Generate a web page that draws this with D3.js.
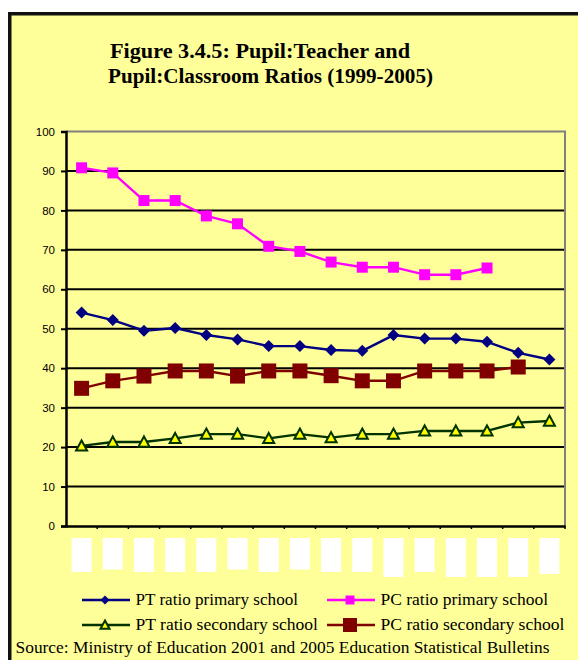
<!DOCTYPE html>
<html>
<head>
<meta charset="utf-8">
<script src="https://cdn.jsdelivr.net/npm/d3@7"></script>
<style>
  html, body { margin: 0; padding: 0; background: #ffffff; }
  svg { display: block; }
</style>
</head>
<body>
<div id="chart"></div>
<script>
// ---------------- DATA ----------------
const categories = ["1990","1991","1992","1993","1994","1995","1996","1997","1998","1999","2000","2001","2002","2003","2004","2005"];
const ptPrimary   = [54.1, 52.2, 49.5, 50.2, 48.4, 47.3, 45.6, 45.6, 44.6, 44.4, 48.4, 47.5, 47.5, 46.7, 43.9, 42.2];
const pcPrimary   = [90.8, 89.5, 82.5, 82.5, 78.6, 76.6, 70.9, 69.6, 66.9, 65.6, 65.6, 63.7, 63.7, 65.4, null, null];
const ptSecondary = [20.3, 21.3, 21.3, 22.2, 23.3, 23.3, 22.2, 23.3, 22.4, 23.3, 23.3, 24.1, 24.1, 24.1, 26.2, 26.6];
const pcSecondary = [34.9, 36.8, 38.0, 39.3, 39.3, 38.0, 39.3, 39.3, 38.1, 36.8, 36.8, 39.3, 39.3, 39.3, 40.3, null];
const yTicks = [0, 10, 20, 30, 40, 50, 60, 70, 80, 90, 100];
const seriesNames = ["PT ratio primary school", "PC ratio primary school", "PT ratio secondary school", "PC ratio secondary school"];
const titleLines = ["Figure 3.4.5: Pupil:Teacher and", "Pupil:Classroom Ratios (1999-2005)"];
const sourceText = "Source: Ministry of Education 2001 and 2005 Education Statistical Bulletins";

// ---------------- LAYOUT / STYLE ----------------
const W = 578, H = 660;
const plot = { left: 66, right: 565, top: 131.5, bottom: 526 };
const labelBoxDepth = [34, 31.5, 34, 34, 34, 31.5, 34, 31.5, 34, 34, 39, 34, 39, 39, 39, 36];
const legendTextWidths = [162.5, 167.5, 182.5, 184];

const series = [
  { name: seriesNames[0], values: ptPrimary,   color: "#000080", marker: "diamond",  size: 12, fill: "#000080" },
  { name: seriesNames[1], values: pcPrimary,   color: "#FF00FF", marker: "square",   size: 11, fill: "#FF00FF" },
  { name: seriesNames[2], values: ptSecondary, color: "#003300", marker: "triangle", size: 11, fill: "#FFFF00" },
  { name: seriesNames[3], values: pcSecondary, color: "#800000", marker: "square",   size: 15, fill: "#800000" }
];

const svg = d3.select("#chart").append("svg")
  .attr("width", W).attr("height", H);

svg.append("rect").attr("x", 0).attr("y", 0).attr("width", W).attr("height", H).attr("fill", "#ffffff");
// chart frame
svg.append("rect")
  .attr("x", 9.75).attr("y", 13.75).attr("width", W + 20).attr("height", H + 20)
  .attr("fill", "#FFFF99").attr("stroke", "#111111").attr("stroke-width", 3.5);

// title
const title = svg.append("g").attr("font-family", "'Liberation Serif', 'Times New Roman', serif")
  .attr("font-weight", "bold").attr("font-size", 21).attr("fill", "#000");
title.append("text").attr("x", 110).attr("y", 57.5).attr("textLength", 300)
  .attr("lengthAdjust", "spacingAndGlyphs").text(titleLines[0]);
title.append("text").attr("x", 108).attr("y", 82.5).attr("textLength", 325)
  .attr("lengthAdjust", "spacingAndGlyphs").text(titleLines[1]);

// scales
const x = d3.scaleBand().domain(categories).range([plot.left, plot.right]);
const y = d3.scaleLinear().domain([0, 100]).range([plot.bottom, plot.top]);

// gridlines
svg.append("g").selectAll("line")
  .data(yTicks.filter(v => v > 0 && v < 100))
  .join("line")
  .attr("x1", plot.left).attr("x2", plot.right)
  .attr("y1", d => y(d)).attr("y2", d => y(d))
  .attr("stroke", "#000").attr("stroke-width", 2);

// plot border (top + right) in gray
svg.append("path")
  .attr("d", `M${plot.left},${y(100)}H${plot.right}V${plot.bottom}`)
  .attr("fill", "none").attr("stroke", "#808080").attr("stroke-width", 2);

// y axis
const yAxis = svg.append("g")
  .attr("transform", `translate(${plot.left},0)`)
  .call(d3.axisLeft(y).tickValues(yTicks).tickSize(5).tickPadding(6).tickFormat(d3.format("d")));
yAxis.select(".domain").attr("stroke", "#000").attr("stroke-width", 2.5);
yAxis.selectAll(".tick line").attr("stroke", "#000").attr("stroke-width", 2);
yAxis.selectAll(".tick text")
  .attr("font-family", "'Liberation Sans', Arial, sans-serif").attr("font-size", 11.5).attr("fill", "#000");

// x axis (ticks at category boundaries, labels hidden)
const xAxis = svg.append("g")
  .attr("transform", `translate(0,${plot.bottom})`)
  .call(d3.axisBottom(x).tickSize(0).tickFormat(""));
xAxis.select(".domain").attr("stroke", "#000").attr("stroke-width", 2.5);
xAxis.selectAll(".tick").remove();
xAxis.selectAll("line.bnd")
  .data(categories.slice(1).concat(["__end"]))
  .join("line")
  .attr("class", "bnd")
  .attr("x1", (d, i) => i < categories.length - 1 ? x(d) : plot.right)
  .attr("x2", (d, i) => i < categories.length - 1 ? x(d) : plot.right)
  .attr("y1", 0).attr("y2", 3)
  .attr("stroke", "#000").attr("stroke-width", 1.5);

// white boxes covering category labels
svg.append("g").selectAll("rect")
  .data(categories)
  .join("rect")
  .attr("x", d => x(d) + x.bandwidth() / 2 - 10)
  .attr("y", 538)
  .attr("width", 20)
  .attr("height", (d, i) => labelBoxDepth[i])
  .attr("fill", "#ffffff");

// markers
function markerPath(type, s) {
  const h = s / 2;
  if (type === "diamond") return `M0,${-h}L${h},0L0,${h}L${-h},0Z`;
  if (type === "square") return `M${-h},${-h}H${h}V${h}H${-h}Z`;
  if (type === "triangle") return `M0,${-h}L${h},${h * 0.85}L${-h},${h * 0.85}Z`;
  return "";
}

const line = d3.line()
  .defined(d => d.v != null)
  .x(d => x(d.c) + x.bandwidth() / 2)
  .y(d => y(d.v));

series.forEach(s => {
  const pts = categories.map((c, i) => ({ c, v: s.values[i] }));
  svg.append("path").datum(pts)
    .attr("d", line).attr("fill", "none")
    .attr("stroke", s.color).attr("stroke-width", 2.4).attr("stroke-linejoin", "round");
});
series.forEach(s => {
  const pts = categories.map((c, i) => ({ c, v: s.values[i] })).filter(d => d.v != null);
  svg.append("g").selectAll("path")
    .data(pts).join("path")
    .attr("transform", d => `translate(${x(d.c) + x.bandwidth() / 2},${y(d.v)})`)
    .attr("d", markerPath(s.marker, s.size))
    .attr("fill", s.fill)
    .attr("stroke", s.marker === "triangle" ? s.color : "none")
    .attr("stroke-width", 2);
});

// legend
const legendPos = [[82, 600], [327, 600], [82, 625], [327, 625]];
const lg = svg.append("g");
series.forEach((s, i) => {
  const [lx, ly] = legendPos[i];
  const g = lg.append("g").attr("transform", `translate(${lx},${ly})`);
  g.append("line").attr("x1", 0).attr("x2", 48).attr("y1", 0).attr("y2", 0)
    .attr("stroke", s.color).attr("stroke-width", 2.5);
  const ms = s.marker === "square" && s.size > 12 ? 14 : 9;
  g.append("path").attr("transform", "translate(23,0)")
    .attr("d", markerPath(s.marker, ms))
    .attr("fill", s.fill)
    .attr("stroke", s.marker === "triangle" ? s.color : "none").attr("stroke-width", 2);
  g.append("text").attr("x", 53.5).attr("y", 5)
    .attr("font-family", "'Liberation Serif', 'Times New Roman', serif")
    .attr("font-size", 16.5).attr("fill", "#000")
    .attr("textLength", legendTextWidths[i]).attr("lengthAdjust", "spacingAndGlyphs")
    .text(s.name);
});

svg.append("text").attr("x", 15.5).attr("y", 653)
  .attr("font-family", "'Liberation Serif', 'Times New Roman', serif")
  .attr("font-size", 16.5).attr("fill", "#000")
  .attr("textLength", 534).attr("lengthAdjust", "spacingAndGlyphs")
  .text(sourceText);
</script>
</body>
</html>
